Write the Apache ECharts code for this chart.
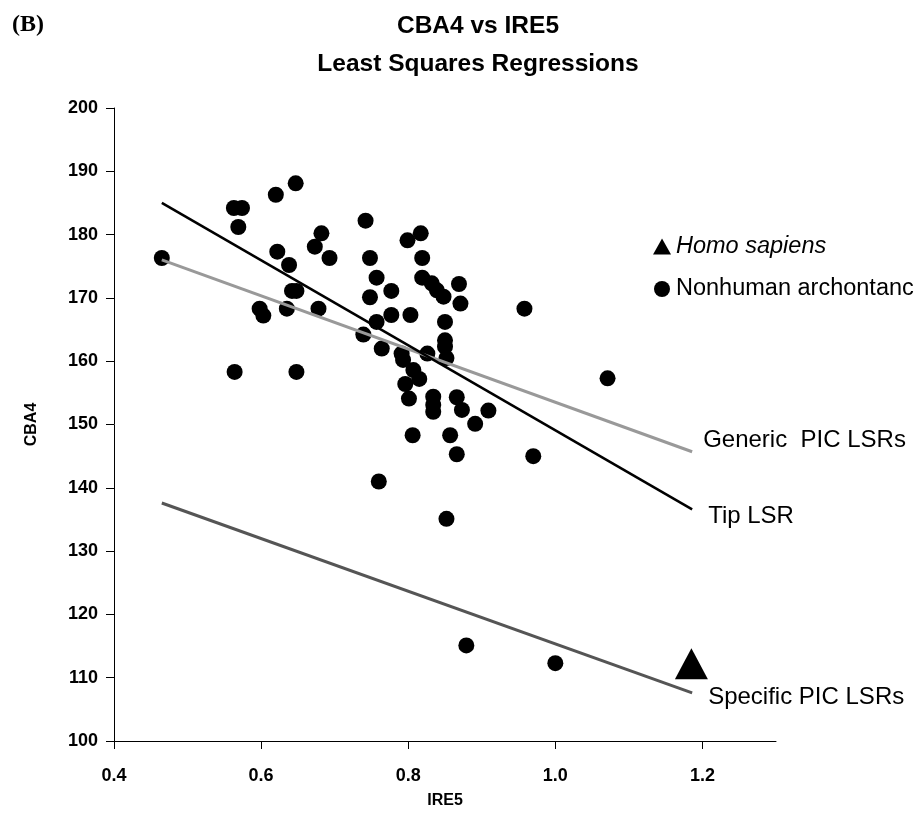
<!DOCTYPE html>
<html>
<head>
<meta charset="utf-8">
<script src="https://cdn.jsdelivr.net/npm/echarts@6/dist/echarts.min.js"></script>
<style>
html,body{margin:0;padding:0;background:#fff;}
#chart{width:923px;height:816px;}
</style>
</head>
<body>
<div id="chart"></div>
<script>
// ---- data ----
const nonhumanIRE5 = [0.465,0.647,0.620,0.563,0.574,0.569,0.622,0.638,0.682,0.673,0.693,0.742,0.748,0.757,0.777,0.748,0.642,0.648,0.635,0.598,0.603,0.678,0.777,0.803,0.757,0.739,0.764,0.564,0.648,0.806,0.799,0.817,0.819,0.819,0.832,0.839,0.848,0.869,0.871,0.958,0.850,0.850,0.850,0.852,0.826,0.791,0.793,0.807,0.815,0.796,0.801,1.071,0.834,0.834,0.834,0.866,0.873,0.909,0.891,0.857,0.866,0.970,0.760,0.852,0.879,1.000];
const nonhumanCBA4 = [176.3,188.1,186.3,184.2,184.2,181.2,177.3,175.2,180.2,178.1,176.3,182.2,176.3,173.2,171.1,170.1,171.1,171.1,168.3,168.3,167.2,168.3,167.3,167.3,166.2,164.2,162.0,158.3,158.3,148.3,179.1,180.2,176.3,173.2,172.3,171.2,170.2,172.2,169.1,168.3,166.2,163.3,162.3,160.5,161.2,161.2,160.2,158.6,157.2,156.4,154.1,157.3,154.4,153.1,152.0,154.3,152.3,152.2,150.1,148.3,145.3,145.0,141.0,135.1,115.1,112.3];
const humanIRE5 = [1.185];
const humanCBA4 = [112.2];

const lineX = [0.465, 1.186];
const tipY = [185.0, 136.6];
const genericY = [176.0, 145.7];
const specificY = [137.6, 107.6];

const seriesNames = ['Homo sapiens', 'Nonhuman archontanc'];
const lineNames = ['Generic  PIC LSRs', 'Tip LSR', 'Specific PIC LSRs'];
const xTicks = [0.4, 0.6, 0.8, 1.0, 1.2];
const yMin = 100, yMax = 200, yStep = 10;
const titleLines = ['CBA4 vs IRE5', 'Least Squares Regressions'];
const panelLabel = '(B)';

// ---- build ----
const zip = (xs, ys) => xs.map((x, i) => [x, ys[i]]);
const SANS = 'Liberation Sans, Arial, sans-serif';
const NOTE_SIZE = 24;

function lineSeries(name, ys, color, width, offset) {
  return {
    type: 'line',
    name: name,
    data: zip(lineX, ys),
    showSymbol: false,
    symbol: 'none',
    lineStyle: { color: color, width: width },
    endLabel: {
      show: true, distance: 5, offset: offset,
      formatter: () => name,
      color: '#000', fontFamily: SANS, fontSize: NOTE_SIZE
    },
    z: 5,
    silent: true,
    animation: false
  };
}

const chart = echarts.init(document.getElementById('chart'), null, { renderer: 'canvas' });
chart.setOption({
  animation: false,
  backgroundColor: '#fff',
  title: [
    {
      text: panelLabel, left: 7, top: 8,
      textStyle: { fontFamily: 'Liberation Serif, Times New Roman, serif', fontWeight: 'bold', fontSize: 24, color: '#000' }
    },
    {
      text: titleLines.join('\n'), left: 473, top: 2, textAlign: 'center',
      textStyle: { fontFamily: SANS, fontWeight: 'bold', fontSize: 24.5, lineHeight: 38, color: '#000' }
    }
  ],
  legend: {
    orient: 'vertical', left: 653, top: 235, padding: 0,
    itemWidth: 18, itemHeight: 16, itemGap: 19,
    textStyle: { fontFamily: SANS, fontSize: 23.5, color: '#000' },
    data: [
      { name: seriesNames[0], icon: 'triangle', textStyle: { fontStyle: 'italic' } },
      { name: seriesNames[1], icon: 'circle' }
    ],
    selectedMode: false
  },
  grid: { left: 114, right: 147, top: 108, bottom: 75 },
  xAxis: {
    type: 'value', min: 0.4, max: 1.3, interval: 0.2,
    name: 'IRE5', nameLocation: 'middle', nameGap: 52,
    nameTextStyle: { fontFamily: SANS, fontWeight: 'bold', fontSize: 16, color: '#000' },
    axisLine: { show: true, onZero: false, lineStyle: { color: '#000', width: 1 } },
    axisTick: { show: true, length: 8, lineStyle: { color: '#000' }, customValues: xTicks },
    axisLabel: {
      customValues: xTicks, margin: 26,
      formatter: v => Number(v).toFixed(1),
      fontFamily: SANS, fontWeight: 'bold', fontSize: 18, color: '#000'
    },
    splitLine: { show: false }
  },
  yAxis: {
    type: 'value', min: yMin, max: yMax, interval: yStep,
    name: 'CBA4', nameLocation: 'middle', nameGap: 74,
    nameTextStyle: { fontFamily: SANS, fontWeight: 'bold', fontSize: 16, color: '#000' },
    axisLine: { show: true, onZero: false, lineStyle: { color: '#000', width: 1 } },
    axisTick: { show: true, length: 8, lineStyle: { color: '#000' } },
    axisLabel: { margin: 16, fontFamily: SANS, fontWeight: 'bold', fontSize: 18, color: '#000' },
    splitLine: { show: false }
  },
  series: [
    {
      type: 'scatter', name: seriesNames[1],
      data: zip(nonhumanIRE5, nonhumanCBA4),
      symbol: 'circle', symbolSize: 16,
      itemStyle: { color: '#000', opacity: 1 },
      z: 2
    },
    {
      type: 'scatter', name: seriesNames[0],
      data: zip(humanIRE5, humanCBA4),
      symbol: 'triangle', symbolSize: [33, 31],
      itemStyle: { color: '#000', opacity: 1 },
      z: 2
    },
    lineSeries(lineNames[0], genericY, '#999999', 3, [6, -11]),
    lineSeries(lineNames[1], tipY, '#000000', 2.5, [11, 7]),
    lineSeries(lineNames[2], specificY, '#555555', 3, [11, 4])
  ]
});
</script>
</body>
</html>
